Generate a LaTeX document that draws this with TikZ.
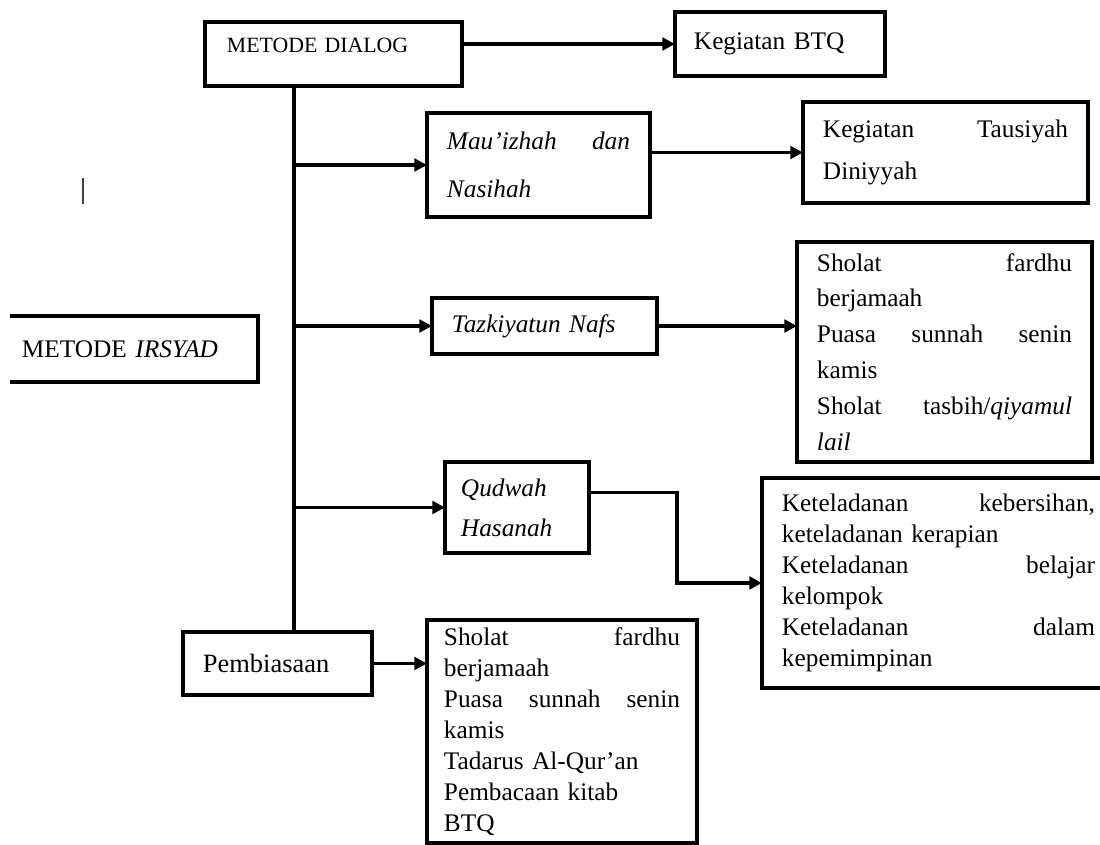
\documentclass[tikz,border=0pt]{standalone}
\usepackage{fontspec}
\setmainfont{Liberation Serif}
\usetikzlibrary{arrows.meta}
\tikzset{
      irsyadbox/.style={
        draw=black,
        line width=2.5pt,
        inner sep=0pt,
        outer sep=0pt,
        align=left,
        font=\fontsize{18}{22}\selectfont
      },
      irsyadline/.style={
        line width=2.4pt
      },
      irsyadarrow/.style={
        irsyadline,
        -{Triangle[length=9pt,width=9pt]}
      }
    }

\begin{document}
\begin{tikzpicture}[x=0.025cm,y=-0.025cm]
    \useasboundingbox (0,0) rectangle (1100,845);
    \node[irsyadbox, minimum width=6.425cm, minimum height=1.6cm, text width=5.325cm, text depth=13pt, font=\fontsize{15.5}{18}\selectfont] (dialog) at (333.5,54) {METODE DIALOG};
    \node[irsyadbox, minimum width=5.25cm, minimum height=1.6cm, text width=4.3cm] (btq) at (780,44) {Kegiatan BTQ};
    \node[irsyadbox, minimum width=5.575cm, minimum height=2.6cm, text width=4.575cm, font=\fontsize{18}{34}\selectfont] (mauizhah) at (538.5,165) {\textit{Mau’izhah \hfill dan}\\ \textit{Nasihah}};
    \node[irsyadbox, minimum width=7.125cm, minimum height=2.525cm, text width=6.125cm, font=\fontsize{18}{30.5}\selectfont] (tausiyah) at (945.5,152.5) {Kegiatan \hfill Tausiyah\\ Diniyyah};
    \node[irsyadbox, draw=none, minimum width=6.2cm, minimum height=1.65cm, text width=5.6cm] (irsyad) at (134,349) {METODE \textit{IRSYAD}};
    \node[irsyadbox, minimum width=5.625cm, minimum height=1.4cm, text width=4.625cm] (tazkiyatun) at (544.5,326) {\textit{Tazkiyatun Nafs}};
    \node[irsyadbox, minimum width=7.375cm, minimum height=5.5cm, text width=6.375cm, font=\fontsize{18}{25.5}\selectfont] (ibadah) at (944.5,352) {Sholat \hfill fardhu\\ berjamaah\\ Puasa \hfill sunnah \hfill senin\\ kamis\\ Sholat \hfill tasbih/\textit{qiyamul}\\ \textit{lail}};
    \node[irsyadbox, minimum width=3.6cm, minimum height=2.275cm, text width=2.8cm, font=\fontsize{18}{28.5}\selectfont] (qudwah) at (517,507.5) {\textit{Qudwah}\\ \textit{Hasanah}};
    \node[irsyadbox, minimum width=8.825cm, minimum height=5.25cm, text width=7.825cm] (keteladanan) at (938.5,583) {Keteladanan \hfill kebersihan,\\ keteladanan kerapian\\ Keteladanan \hfill belajar\\ kelompok\\ Keteladanan \hfill dalam\\ kepemimpinan};
    \node[irsyadbox, minimum width=4.725cm, minimum height=1.575cm, text width=3.725cm, font=\fontsize{18.8}{22}\selectfont] (pembiasaan) at (277.5,663.5) {Pembiasaan};
    \node[irsyadbox, minimum width=6.75cm, minimum height=5.575cm, text width=5.9cm] (rutinitas) at (562,731.5) {Sholat \hfill fardhu\\ berjamaah\\ Puasa \hfill sunnah \hfill senin\\ kamis\\ Tadarus Al-Qur’an\\ Pembacaan kitab\\ BTQ};
    % box cut at the left edge
    \draw[line width=2.5pt] (irsyad.north west) -- (irsyad.north east) -- (irsyad.south east) -- (irsyad.south west);
    \draw[line width=1.2pt, black!75] (83,178) -- (83,204);
    % trunk and branches
    \coordinate (trunk) at (294,0);
    \draw[irsyadline] (dialog.south -| trunk) -- (pembiasaan.north -| trunk);
    \draw[irsyadarrow] (trunk |- mauizhah.west) -- (mauizhah.west);
    \draw[irsyadarrow] (trunk |- tazkiyatun.west) -- (tazkiyatun.west);
    \draw[irsyadarrow] (trunk |- qudwah.west) -- (qudwah.west);
    \draw[irsyadarrow] (dialog.east |- btq.west) -- (btq.west);
    \draw[irsyadarrow] (mauizhah.east |- tausiyah.west) -- (tausiyah.west);
    \draw[irsyadarrow] (tazkiyatun.east) -- (tazkiyatun.east -| ibadah.west);
    \draw[irsyadarrow] (qudwah.east) ++(0,-15) -- ++(88,0) |- (keteladanan.west);
    \draw[irsyadarrow] (pembiasaan.east) -- (pembiasaan.east -| rutinitas.west);
\end{tikzpicture}
\end{document}
